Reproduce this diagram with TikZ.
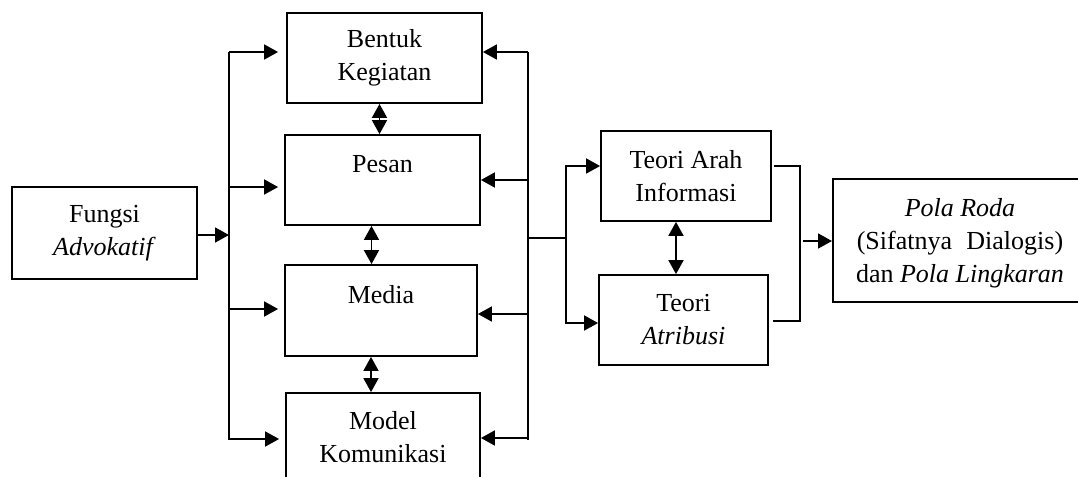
\documentclass[tikz,border=0pt]{standalone}
\usepackage{fontspec}
\setmainfont{Liberation Serif}
\usetikzlibrary{arrows.meta}

\tikzset{
    kotak/.style={draw,line width=.9pt,align=center,inner sep=0pt},
    panah/.style={line width=.9pt,-{Triangle[length=7pt,width=7.5pt]}},
    panahdua/.style={line width=.9pt,{Triangle[length=7pt,width=7.5pt]}-{Triangle[length=7pt,width=7.5pt]}}
}

\begin{document}
\begin{tikzpicture}[x=.5pt,y=-.5pt,line width=.9pt,font=\fontsize{13pt}{16.5pt}\selectfont]
    \useasboundingbox (0,0) rectangle (1078,477);
    \clip (0,0) rectangle (1078,477);

    \node[kotak,minimum width=92.5pt,minimum height=46pt] (fungsi) at (104.5,233) {Fungsi\\\textit{Advokatif}};

    \node[kotak,minimum width=97.5pt,minimum height=45pt] (bentuk) at (384.5,58) {Bentuk\\Kegiatan};
    \node[kotak,minimum width=97.5pt,minimum height=45pt] (pesan) at (382.5,180) {Pesan\\\phantom{P}};
    \node[kotak,minimum width=96pt,minimum height=45.5pt] (media) at (381,310.5) {Media\\\phantom{M}};
    \node[kotak,minimum width=97pt,minimum height=44.5pt] (model) at (383,437.5) {Model\\Komunikasi};

    \node[kotak,minimum width=85pt,minimum height=45pt] (arah) at (686,176) {Teori Arah\\Informasi};
    \node[kotak,minimum width=84.5pt,minimum height=45pt] (atribusi) at (683.5,320) {Teori\\\textit{Atribusi}};

    % kotak kanan, sisi kanannya di luar gambar
    \node[kotak,minimum width=160pt,minimum height=61.5pt,anchor=west] (pola) at (832,240.5) {};
    \node[align=center,inner sep=0pt] (teks-pola) at (960,243.5) {\textit{Pola Roda}\\(Sifatnya\hspace{.55em}Dialogis)\\dan \textit{Pola Lingkaran}};

    % jalur kiri
    \coordinate (kiri1) at (229,52);
    \coordinate (kiri2) at (229,187);
    \coordinate (kiri3) at (229,309);
    \coordinate (kiri4) at (229,440);
    \draw (kiri1)--(kiri4);
    \draw[panah] ([yshift=-1pt]fungsi.east)--([yshift=-1pt]fungsi.east -| kiri1);
    \draw[panah,shorten >=4pt] (kiri1)--(kiri1 -| bentuk.west);
    \draw[panah,shorten >=3pt] (kiri2)--(kiri2 -| pesan.west);
    \draw[panah,shorten >=3pt] (kiri3)--(kiri3 -| media.west);
    \draw[panah,shorten >=3pt] ([yshift=.5pt]kiri4)--([yshift=.5pt]kiri4 -| model.west);

    % antar kotak
    \draw[panahdua] ([xshift=-2.5pt]bentuk.south)--([xshift=-2.5pt]bentuk.south |- pesan.north);
    \draw[panahdua] ([xshift=-5.5pt]pesan.south)--([xshift=-5.5pt]pesan.south |- media.north);
    \draw[panahdua] ([xshift=-5pt]media.south)--([xshift=-5pt]media.south |- model.north);
    \draw[panahdua] ([xshift=-5pt]arah.south)--([xshift=-5pt]arah.south |- atribusi.north);

    % jalur kanan
    \coordinate (kanan1) at (528,52);
    \coordinate (kanan2) at (528,180);
    \coordinate (kanan3) at (528,314);
    \coordinate (kanan4) at (528,440);
    \coordinate (cabang) at (566,238);
    \draw (kanan1)--(kanan4);
    \draw[panah] (kanan1)--(kanan1 -| bentuk.east);
    \draw[panah] (kanan2)--(kanan2 -| pesan.east);
    \draw[panah] (kanan3)--(kanan3 -| media.east);
    \draw[panah] ([yshift=1pt]kanan4)--([yshift=1pt]kanan4 -| model.east);

    \draw (kanan1 |- cabang)--(cabang);
    \draw[panah] (cabang)|-([yshift=5pt]arah.west);
    \draw[panah] (cabang)|-([yshift=-1.5pt]atribusi.west);

    \draw ([xshift=1pt,yshift=5pt]arah.east)--++(13pt,0) coordinate (siku)
        |-([xshift=2pt,yshift=-.5pt]atribusi.east);
    \coordinate (kepola) at (803,241);
    \draw[panah] (kepola)--(kepola -| pola.west);
\end{tikzpicture}
\end{document}
